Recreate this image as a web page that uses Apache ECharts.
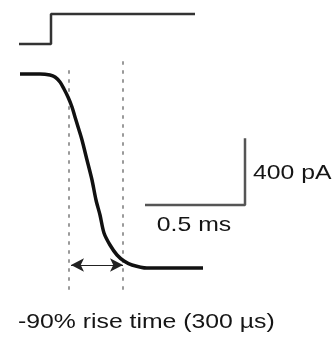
<!DOCTYPE html>
<html>
<head>
<meta charset="utf-8">
<script src="https://cdn.jsdelivr.net/npm/echarts@6/dist/echarts.min.js"></script>
<style>
  html, body { margin: 0; padding: 0; background: #fff; }
  #chart { width: 335px; height: 339px; }
</style>
</head>
<body>
<div id="chart"></div>
<script>
// time in ms, current in pA, command in mV
var stepTime = [0.095, 0.255, 0.255, 0.975];
var stepVolt = [-70, -70, 0, 0];

var curTime = [0.10, 0.20, 0.25, 0.275, 0.30, 0.32, 0.34, 0.36, 0.375, 0.395, 0.41, 0.435, 0.46, 0.48, 0.50, 0.52, 0.55, 0.585, 0.62, 0.66, 0.735, 0.85, 1.015];
var curAmp = [0, 0, -6, -18, -48, -90, -138, -198, -258, -336, -396, -516, -636, -756, -846, -954, -1026, -1086, -1122, -1146, -1164, -1164, -1164];

// 10% and 90% markers
var markTime = [0.345, 0.615];
var markTop = [18, 72];
var markBottom = -1326;
var arrowAmp = -1146;

// scale bars: 0.5 ms, 400 pA
var barX = [1.225, 1.225, 0.725];
var barY = [-386, -786, -786];

var labelFont = '21px "Liberation Sans", Arial, sans-serif';

function zip(a, b) {
    return a.map(function (v, i) { return [v, b[i]]; });
}

function label(text, x, y, align) {
    return {
        type: 'text', x: x, y: y, scaleX: 1.18, silent: true,
        style: { text: text, font: labelFont, fill: '#151515', align: align, verticalAlign: 'middle' }
    };
}

var dotStyle = { color: '#9a9a9a', width: 2, type: [2, 7], cap: 'round' };

var chart = echarts.init(document.getElementById('chart'));
chart.setOption({
    animation: false,
    grid: { left: 0, right: 0, top: 0, bottom: 0 },
    xAxis: { type: 'value', min: 0, max: 1.675, show: false },
    yAxis: [
        { type: 'value', min: -1590, max: 444, show: false },
        { type: 'value', min: -758.33, max: 32.67, show: false }
    ],
    graphic: [
        label('400 pA', 253, 173, 'left'),
        label('0.5 ms', 194, 225, 'center'),
        label('-90% rise time (300 µs)', 18, 322, 'left')
    ],
    series: [
        {
            type: 'line', yAxisIndex: 0, symbol: 'none', silent: true,
            data: [[markTime[0], markTop[0]], [markTime[0], markBottom]],
            lineStyle: dotStyle
        },
        {
            type: 'line', yAxisIndex: 0, symbol: 'none', silent: true,
            data: [[markTime[1], markTop[1]], [markTime[1], markBottom]],
            lineStyle: dotStyle,
            markLine: {
                silent: true,
                symbol: ['arrow', 'arrow'],
                symbolSize: [10, 13],
                label: { show: false },
                lineStyle: { color: '#222', width: 1, type: 'solid' },
                data: [[{ coord: [markTime[0] + 0.01, arrowAmp] }, { coord: [markTime[1], arrowAmp] }]]
            }
        },
        {
            type: 'line', yAxisIndex: 1, symbol: 'none', silent: true,
            data: zip(stepTime, stepVolt),
            lineStyle: { color: '#333', width: 2.5 }
        },
        {
            type: 'line', yAxisIndex: 0, symbol: 'none', silent: true,
            smooth: 0.3,
            data: zip(curTime, curAmp),
            lineStyle: { color: '#111', width: 3.5 }
        },
        {
            type: 'line', yAxisIndex: 0, symbol: 'none', silent: true,
            data: zip(barX, barY),
            lineStyle: { color: '#555', width: 2.5 }
        }
    ]
});
</script>
</body>
</html>
